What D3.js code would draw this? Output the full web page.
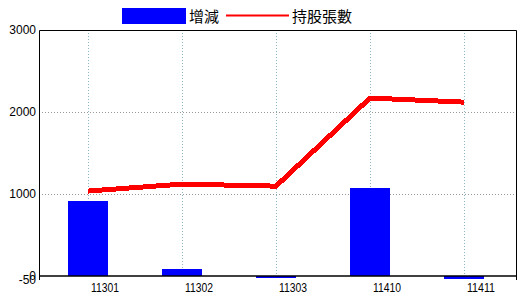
<!DOCTYPE html>
<html>
<head>
<meta charset="utf-8">
<script src="https://cdn.jsdelivr.net/npm/d3@7"></script>
<style>
  body { margin: 0; background: #fff; }
  svg { display: block; font-family: "Liberation Sans", Arial, "Noto Sans CJK TC", sans-serif; }
</style>
</head>
<body>
<div id="chart"></div>
<script>
// chart data
var categories = ["11301", "11302", "11303", "11410", "11411"];
var changeValues = [915, 85, -30, 1075, -40];     // 增減 (bars)
var holdingValues = [1035, 1120, 1095, 2170, 2120]; // 持股張數 (line)
var yTicks = [3000, 2000, 1000, 0, -50];

var width = 520, height = 300;
var plot = {left: 39, right: 517, top: 30, bottom: 280};

var svg = d3.select("#chart").append("svg")
  .attr("width", width)
  .attr("height", height);

var x = d3.scaleBand().domain(categories).range([41, 511]).padding(0);
var y = d3.scaleLinear().domain([-50, 3000]).range([plot.bottom, plot.top]);
var barWidth = 40;

//Horizontal grid lines
svg.append("g").selectAll("line")
  .data([1000, 2000])
  .enter().append("line")
    .attr("x1", plot.left).attr("x2", plot.right)
    .attr("y1", function(d){ return Math.round(y(d)) + 0.5; })
    .attr("y2", function(d){ return Math.round(y(d)) + 0.5; })
    .style("stroke", "#999")
    .style("stroke-dasharray", "1,2");

//Vertical grid lines
svg.append("g").selectAll("line")
  .data(categories)
  .enter().append("line")
    .attr("x1", function(d){ return Math.round(x(d) + x.bandwidth() / 2) + 0.5; })
    .attr("x2", function(d){ return Math.round(x(d) + x.bandwidth() / 2) + 0.5; })
    .attr("y1", plot.top).attr("y2", y(0))
    .style("stroke", "#8fb6c6")
    .style("stroke-dasharray", "1,2");

//Bars
svg.append("g").selectAll("rect")
  .data(changeValues)
  .enter().append("rect")
    .attr("x", function(d, i){ return Math.round(x(categories[i]) + x.bandwidth() / 2 - barWidth / 2); })
    .attr("y", function(d){ return Math.round(y(Math.max(0, d))); })
    .attr("width", barWidth)
    .attr("height", function(d){ return Math.max(1, Math.round(Math.abs(y(d) - y(0)))); })
    .style("fill", "#0000ff");

//Line
var line = d3.line()
  .x(function(d, i){ return x(categories[i]) + x.bandwidth() / 2; })
  .y(function(d){ return y(d); });

svg.append("path")
  .datum(holdingValues)
  .attr("d", line)
  .style("fill", "none")
  .style("stroke", "#ff0000")
  .style("stroke-width", 5)
  .style("shape-rendering", "crispEdges");

//Frame
svg.append("path")
  .attr("d", "M" + (plot.left + 0.5) + "," + plot.bottom + "V" + (plot.top + 0.5) + "H" + (plot.right - 0.5) + "V" + plot.bottom)
  .style("fill", "none")
  .style("stroke", "#000");

//Zero line
svg.append("line")
  .attr("x1", plot.left).attr("x2", plot.right)
  .attr("y1", y(0)).attr("y2", y(0))
  .style("stroke", "#000")
  .style("stroke-width", 1.5);

//Y labels
svg.append("g").selectAll("text")
  .data(yTicks)
  .enter().append("text")
    .attr("x", 36)
    .attr("y", function(d){ return y(d); })
    .attr("dy", "0.35em")
    .style("text-anchor", "end")
    .style("font-size", "12px")
    .text(function(d){ return d; });

//X labels (sit to the right of each category line)
svg.append("g").selectAll("text")
  .data(categories)
  .enter().append("text")
    .attr("x", function(d){ return x(d) + x.bandwidth() / 2 + 3; })
    .attr("y", 292)
    .attr("textLength", 28)
    .attr("lengthAdjust", "spacingAndGlyphs")
    .style("font-size", "13px")
    .text(function(d){ return d; });

//Legend
var legend = svg.append("g");
legend.append("rect")
  .attr("x", 122).attr("y", 8)
  .attr("width", 64).attr("height", 16)
  .style("fill", "#0000ff");
legend.append("text")
  .attr("x", 189).attr("y", 22)
  .style("font-size", "15px")
  .text("增減");
legend.append("line")
  .attr("x1", 226).attr("x2", 289)
  .attr("y1", 15.5).attr("y2", 15.5)
  .style("stroke", "#ff0000")
  .style("stroke-width", 2);
legend.append("text")
  .attr("x", 292).attr("y", 22)
  .style("font-size", "15px")
  .text("持股張數");
</script>
</body>
</html>
